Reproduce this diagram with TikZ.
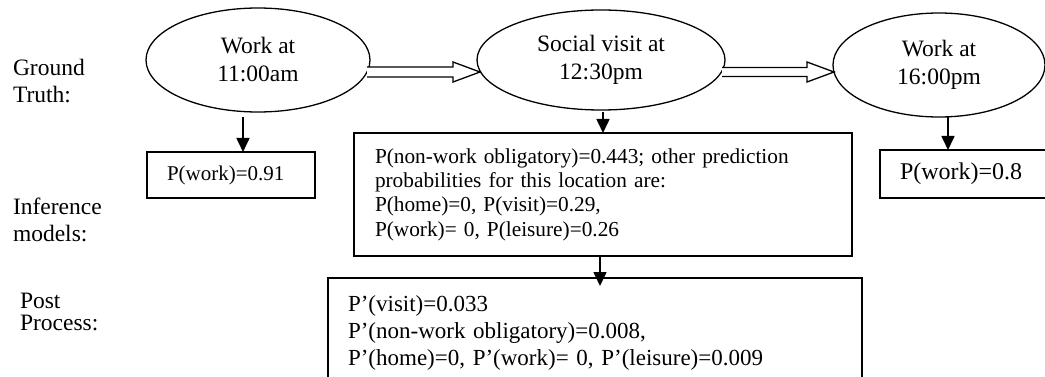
\documentclass[tikz,border=0pt]{standalone}
\usepackage{fontspec}
\setmainfont{Liberation Serif}
\usetikzlibrary{arrows.meta,calc,shapes.geometric}
\begin{document}
\begin{tikzpicture}[x=1pt,y=-1pt,
  every node/.style={inner sep=0pt,outer sep=0pt},
  oval/.style={draw,line width=1.3pt,ellipse,align=center,
    font=\fontsize{23.5}{28}\selectfont},
  probbox/.style={draw,line width=1.3pt,rectangle,align=left},
  rowlabel/.style={anchor=west,align=left,font=\fontsize{23.5}{27}\selectfont},
  downarrow/.style={line width=1.6pt,-{Triangle[width=13pt,length=14pt]}},
  hollow/.style={line width=1.3pt,fill=white,line join=miter}
]
\useasboundingbox (0,0) rectangle (1045,377);
\clip (0,0) rectangle (1045,377);

% row labels
\node[rowlabel] (gt) at (13,81.5) {Ground\\Truth:};
\node[rowlabel] (inf) at (13,219.5) {Inference\\models:};
\node[rowlabel,font=\fontsize{23.5}{22.5}\selectfont] (pp) at (20,312) {Post\\Process:};

% ground-truth ellipses
\node[oval,minimum width=224pt,minimum height=104pt] (e1) at (258,60) {Work at\\11:00am};
\node[oval,minimum width=248pt,minimum height=100pt] (e2) at (601,60) {Social visit at\\12:30pm};
\node[oval,minimum width=212pt,minimum height=104pt] (e3) at (939,65) {Work at\\16:00pm};

% inference boxes
\node[probbox,minimum width=168pt,minimum height=46pt,inner xsep=20pt,text width=128pt,
  font=\fontsize{21}{24}\selectfont] (b1) at (231,175) {P(work)=0.91};
\node[probbox,minimum height=123pt,inner xsep=21pt,text width=456pt,
  font=\fontsize{21.3}{24.3}\selectfont] (b2) at (603,194.5)
  {P(non-work obligatory)=0.443; other prediction\\
   probabilities for this location are:\\
   P(home)=0, P(visit)=0.29,\\
   P(work)= 0, P(leisure)=0.26};
\node[probbox,minimum height=48pt,inner xsep=20pt,text width=160pt,
  font=\fontsize{24}{28}\selectfont] (b4) at (980,174) {P(work)=0.8};

% post-process box
\node[probbox,minimum height=110pt,inner xsep=20pt,text width=494pt,
  font=\fontsize{23}{27}\selectfont] (b3) at (595,333)
  {P’(visit)=0.033\\
   P’(non-work obligatory)=0.008,\\
   P’(home)=0, P’(work)= 0, P’(leisure)=0.009};

% hollow arrows between ellipses
\draw[hollow] let \p1=($(e1.east)+(-3,12)$), \p2=($(e2.west)+(3,12)$) in
  (\x1,\y1+5pt) -- (\x2-27pt,\y1+5pt) -- (\x2-27pt,\y1+10pt) -- (\x2,\y1)
  -- (\x2-27pt,\y1-10pt) -- (\x2-27pt,\y1-5pt) -- (\x1,\y1-5pt);
\draw[hollow] let \p1=($(e2.east)+(-3,12)$), \p2=($(e3.west)+(1,7)$) in
  (\x1,\y1+4.5pt) -- (\x2-27pt,\y1+4.5pt) -- (\x2-27pt,\y1+10pt) -- (\x2,\y1)
  -- (\x2-27pt,\y1-10pt) -- (\x2-27pt,\y1-4.5pt) -- (\x1,\y1-4.5pt);

% downward arrows
\draw[downarrow] ([xshift=-15pt,yshift=-5pt]e1.south) -- ([xshift=-15pt]e1.south |- b1.north);
\draw[downarrow] ([xshift=2pt,yshift=-2pt]e2.south) -- ([xshift=2pt]e2.south |- b2.north);
\draw[downarrow] ([xshift=-3pt]b2.south) -- ([xshift=-3pt,yshift=-8pt]b2.south |- b3.north);
\draw[downarrow] ([xshift=9pt]e3.south) -- ([xshift=9pt]e3.south |- b4.north);
\end{tikzpicture}
\end{document}
